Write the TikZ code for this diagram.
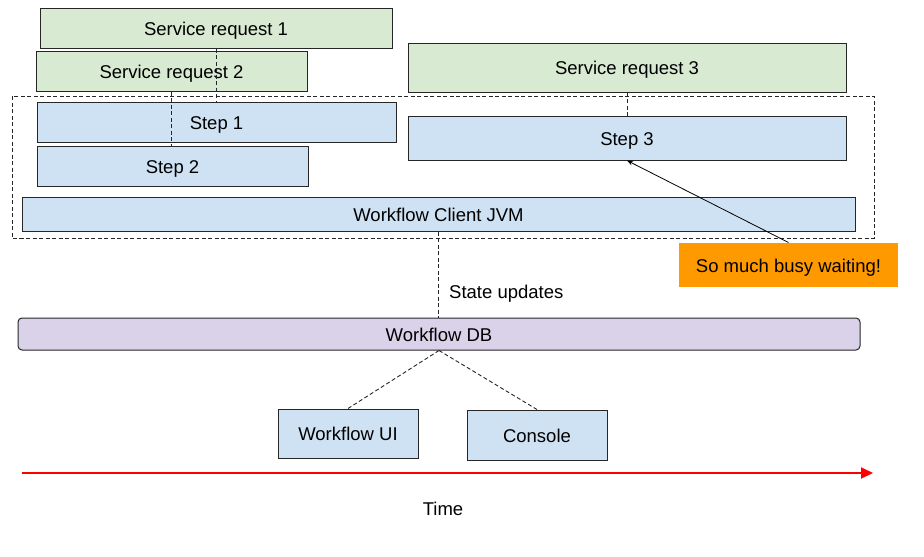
\documentclass[tikz,border=0pt]{standalone}
\usepackage{fontspec}
\setmainfont{Liberation Sans}
\usetikzlibrary{arrows.meta}
\definecolor{reqgreen}{HTML}{D9EAD3}
\definecolor{stepblue}{HTML}{CFE2F3}
\definecolor{dbpurple}{HTML}{D9D2E9}
\definecolor{busyorange}{HTML}{FF9900}
\begin{document}
\begin{tikzpicture}[x=1pt,y=-1pt,
  box/.style={draw=black!85,line width=1pt,inner sep=0pt,text height=14pt,text depth=0pt,font=\fontsize{18.5}{22}\selectfont},
  reqbox/.style={box,fill=reqgreen},
  stepbox/.style={box,fill=stepblue},
  link/.style={black!85,line width=.9pt,dash pattern=on 4pt off 2.5pt}]
\path[use as bounding box] (0,0) rectangle (924,557);
% service requests
\node[reqbox,minimum width=352,minimum height=40] (sr1) at (216,28) {Service request 1};
\node[reqbox,minimum width=271,minimum height=40] (sr2) at (171.5,71) {Service request 2};
\node[reqbox,minimum width=438,minimum height=49] (sr3) at (627,67.5) {Service request 3};
% client JVM frame
\draw[link] (12,96) rectangle (874,238);
\node[stepbox,minimum width=359,minimum height=40] (step1) at (216.5,122) {Step 1};
\node[stepbox,minimum width=271,minimum height=40] (step2) at (172.5,166) {Step 2};
\node[stepbox,minimum width=438,minimum height=44] (step3) at (627,138) {Step 3};
\node[stepbox,minimum width=833,minimum height=34] (jvm) at (438.5,214) {Workflow Client JVM};
\node[box,draw=none,fill=busyorange,minimum width=219,minimum height=44] (busy) at (788.5,265) {So much busy waiting!};
% database and consumers
\node[box,fill=dbpurple,rounded corners=4pt,minimum width=842,minimum height=32] (db) at (439,334) {Workflow DB};
\node[stepbox,minimum width=140,minimum height=49] (ui) at (348,433.5) {Workflow UI};
\node[stepbox,minimum width=140,minimum height=50] (console) at (537,435) {Console};
\node[anchor=west,inner sep=0pt,font=\fontsize{18.5}{22}\selectfont] (upd) at (449,294) {State updates};
\node[inner sep=0pt,font=\fontsize{18.5}{22}\selectfont] (time) at (443,509) {Time};
\coordinate (t0) at (22,473);
\coordinate (t1) at (873,473);

\draw[link] (sr1.south) -- (sr1.south |- step1.north);
\draw[link] (sr2.south) -- (sr2.south |- step2.north);
\draw[link] (sr3.south) -- (sr3.south |- step3.north);
\draw[link] (jvm.south) -- (jvm.south |- db.north);
\draw[link] (db.south) -- (ui.north);
\draw[link] (db.south) -- (console.north);
\draw[black,line width=.8pt,-{Stealth[length=6pt,width=4.5pt]}] (busy.north) -- (step3.south);
\draw[red,line width=2pt,-{Triangle[length=12pt,width=11pt]}] (t0) -- (t1);
\end{tikzpicture}
\end{document}
